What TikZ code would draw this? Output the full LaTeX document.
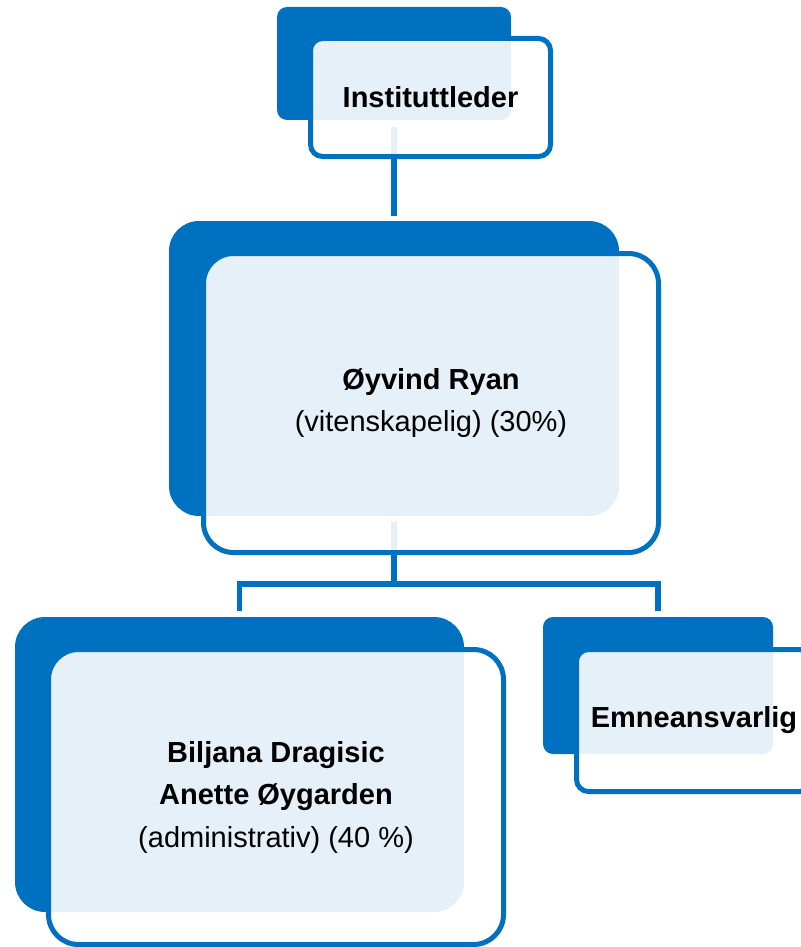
\documentclass[tikz,border=0pt]{standalone}
\usepackage{fontspec}
\setmainfont{Liberation Sans}
\usetikzlibrary{positioning}
\definecolor{blaa}{RGB}{0,112,192}

\begin{document}
\begin{tikzpicture}[x=1pt, y=-1pt,
    bak/.style={fill=blaa, rounded corners=#1, inner sep=0pt},
    bak/.default=30pt,
    boks/.style={draw=blaa, line width=5pt, fill=white, fill opacity=0.9,
      text opacity=1, rounded corners=#1, inner sep=0pt, align=center,
      font=\fontsize{29}{42.5}\selectfont},
    boks/.default=30pt,
    linje/.style={draw=blaa, line width=5.5pt}]
\useasboundingbox (0,0) rectangle (800,947);

% bakre flater
\node[bak=10pt, minimum width=234pt, minimum height=113pt] (lederbak) at (394,63.5) {};
\node[bak, minimum width=450pt, minimum height=295pt] (ryanbak) at (394,368.5) {};
\node[bak, minimum width=449pt, minimum height=295pt] (dragbak) at (239.5,764.5) {};
\node[bak=10pt, minimum width=230pt, minimum height=137pt] (emnebak) at (658,685.5) {};

% linjer
\coordinate (gren) at (394,584);
\draw[linje, shorten <=7pt, shorten >=5pt] (lederbak) -- (ryanbak);
\draw[linje, shorten <=6pt] (ryanbak.south) -- (gren);
\draw[linje, shorten <=6pt, shorten >=6pt] (dragbak.north) |- (gren) -| (emnebak.north);

% bokser med tekst
\node[boks=12pt, minimum width=240pt, minimum height=118pt] (leder) at (430.5,97.5) {\textbf{Instituttleder}};
\node[boks, minimum width=455pt, minimum height=299pt] (ryan) at (431,403) {\textbf{Øyvind Ryan}\\(vitenskapelig) (30\%)};
\node[boks, minimum width=455pt, minimum height=295pt] (drag) at (276,797) {\textbf{Biljana Dragisic}\\\textbf{Anette Øygarden}\\(administrativ) (40 \%)};
\node[boks=12pt, minimum width=235pt, minimum height=142pt] (emne) at (694,720.5) {\textbf{Emneansvarlig}};
\end{tikzpicture}
\end{document}
